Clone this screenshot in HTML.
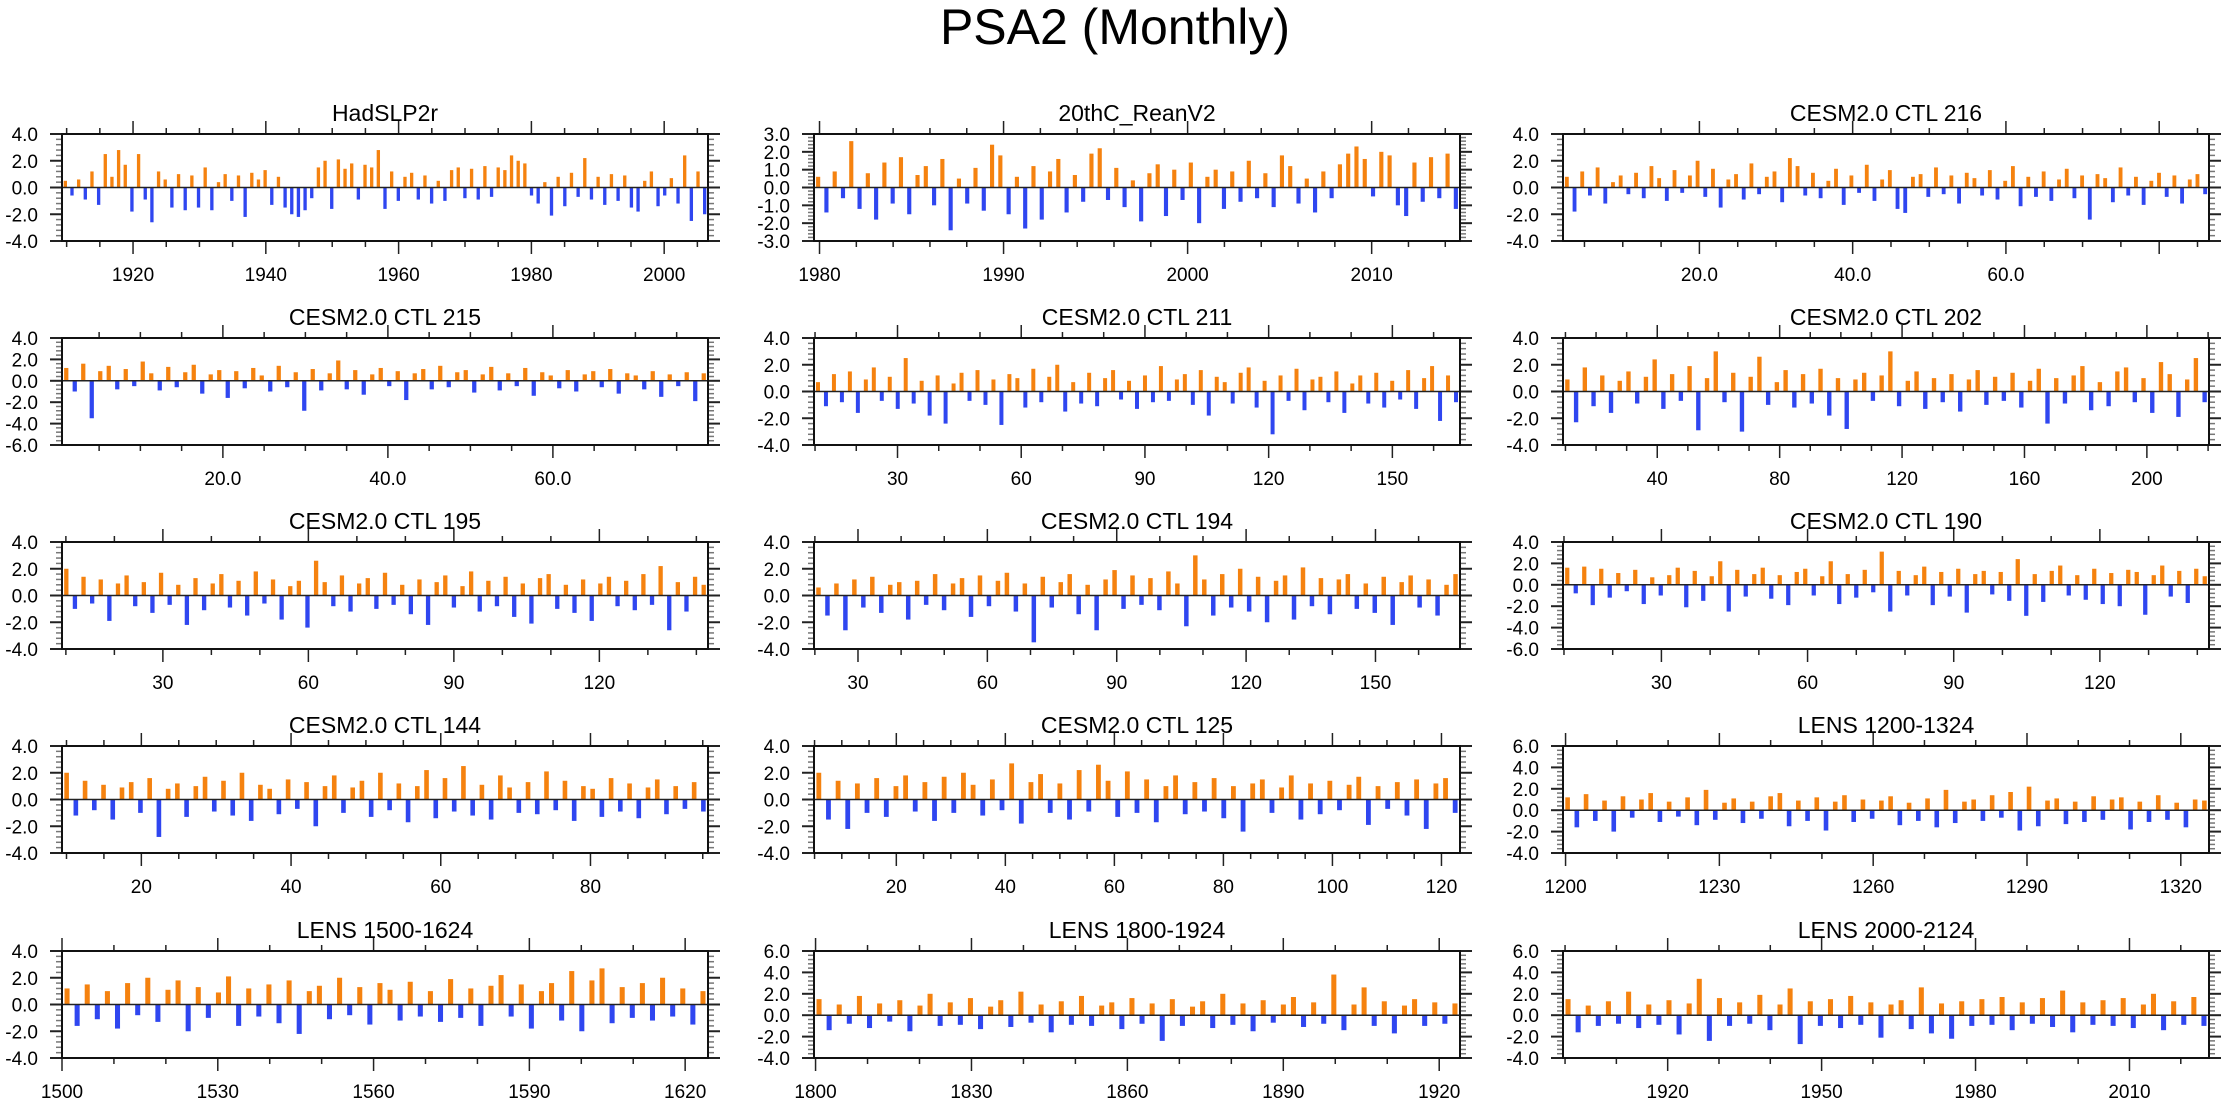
<!DOCTYPE html>
<html><head><meta charset="utf-8"><style>
html,body{margin:0;padding:0;background:#fff}
svg{display:block}
text{font-family:"Liberation Sans",sans-serif;fill:#000}
</style></head><body>
<svg id="chart" width="2230" height="1106" viewBox="0 0 2230 1106" xmlns="http://www.w3.org/2000/svg">
<text x="1115" y="44" font-size="50" text-anchor="middle">PSA2 (Monthly)</text>
</svg>
<script>
const hadslpValues=[0.5,-0.6,0.6,-0.9,1.2,-1.3,2.5,0.8,2.8,1.7,-1.8,2.5,-0.9,-2.6,1.2,0.6,-1.5,1.0,-1.7,0.9,-1.5,1.5,-1.7,0.4,1.0,-1.0,0.9,-2.2,1.1,0.6,1.3,-1.3,0.8,-1.5,-2.0,-2.2,-1.7,-0.8,1.5,2.0,-1.6,2.1,1.4,1.8,-0.9,1.7,1.5,2.8,-1.6,1.2,-1.0,0.8,1.1,-0.9,0.9,-1.2,0.5,-1.0,1.3,1.5,-0.8,1.4,-0.9,1.6,-0.7,1.5,1.3,2.4,2.0,1.8,-0.6,-1.2,0.4,-2.1,0.8,-1.4,1.1,-0.7,2.2,-0.9,0.8,-1.3,1.0,-1.0,0.9,-1.5,-1.8,0.5,1.2,-1.4,-0.6,0.7,-1.2,2.4,-2.5,1.2,-2.0];
const reanValues=[0.6,-1.4,0.9,-0.6,2.6,-1.2,0.8,-1.8,1.4,-0.9,1.7,-1.5,0.7,1.2,-1.0,1.6,-2.4,0.5,-0.9,1.1,-1.3,2.4,1.8,-1.5,0.6,-2.3,1.2,-1.8,0.9,1.6,-1.4,0.7,-0.8,1.9,2.2,-0.7,1.1,-1.1,0.4,-1.9,0.8,1.3,-1.6,1.0,-0.7,1.4,-2.0,0.6,1.0,-1.2,0.9,-0.8,1.5,-0.6,0.8,-1.1,1.8,1.2,-0.9,0.5,-1.4,0.9,-0.6,1.3,1.9,2.3,1.6,-0.5,2.0,1.8,-1.0,-1.6,1.4,-0.8,1.7,-0.6,1.9,-1.2];
const ctl216Values=[0.8,-1.8,1.2,-0.6,1.5,-1.2,0.4,0.9,-0.5,1.1,-0.8,1.6,0.7,-1.0,1.3,-0.4,0.9,2.0,-0.7,1.4,-1.5,0.6,1.0,-0.9,1.8,-0.5,0.8,1.2,-1.1,2.2,1.6,-0.6,1.1,-0.8,0.5,1.4,-1.3,0.9,-0.4,1.7,-1.0,0.6,1.3,-1.6,-1.9,0.8,1.0,-0.7,1.5,-0.5,0.9,-1.2,1.1,0.7,-0.6,1.3,-0.9,0.5,1.6,-1.4,0.8,-0.7,1.2,-1.0,0.6,1.4,-0.8,0.9,-2.4,1.0,0.7,-1.1,1.5,-0.6,0.8,-1.3,0.5,1.1,-0.7,0.9,-1.2,0.6,1.0,-0.5];
const ctl215Values=[1.2,-1.0,1.6,-3.5,0.9,1.4,-0.8,1.1,-0.5,1.8,0.7,-0.9,1.3,-0.6,0.8,1.5,-1.2,0.6,1.0,-1.6,0.9,-0.7,1.2,0.5,-1.0,1.4,-0.6,0.8,-2.8,1.1,-0.9,0.7,1.9,-0.8,1.0,-1.3,0.6,1.2,-0.5,0.9,-1.8,0.7,1.1,-0.8,1.4,-0.6,0.8,1.0,-1.1,0.6,1.3,-0.9,0.7,-0.5,1.2,-1.4,0.8,0.5,-0.7,1.0,-1.0,0.6,0.9,-0.6,1.1,-1.2,0.7,0.5,-0.8,0.9,-1.5,0.6,-0.5,0.8,-1.9,0.7];
const ctl211Values=[0.7,-1.1,1.3,-0.8,1.5,-1.6,0.9,1.8,-0.7,1.1,-1.3,2.5,-0.9,0.8,-1.8,1.2,-2.4,0.6,1.4,-0.7,1.6,-1.0,0.9,-2.5,1.3,1.0,-1.2,1.7,-0.8,1.1,2.0,-1.5,0.7,-0.9,1.4,-1.1,1.0,1.6,-0.6,0.8,-1.3,1.2,-0.8,1.9,-0.7,0.9,1.3,-1.0,1.6,-1.8,1.1,0.7,-0.9,1.4,1.8,-1.2,0.8,-3.2,1.2,-0.7,1.7,-1.4,0.9,1.1,-0.8,1.5,-1.6,0.6,1.2,-0.9,1.4,-1.2,0.8,-0.6,1.6,-1.3,1.0,1.9,-2.2,1.2,-0.8];
const ctl202Values=[0.9,-2.3,1.8,-1.1,1.2,-1.6,0.8,1.5,-0.9,1.1,2.4,-1.3,1.3,-0.7,1.9,-2.9,1.0,3.0,-0.8,1.4,-3.0,1.1,2.6,-1.0,0.7,1.6,-1.2,1.3,-0.9,1.7,-1.8,1.0,-2.8,0.9,1.4,-0.7,1.2,3.0,-1.1,0.8,1.5,-1.3,1.0,-0.8,1.3,-1.5,0.9,1.6,-1.0,1.1,-0.7,1.4,-1.2,0.8,1.7,-2.4,1.0,-0.9,1.2,1.9,-1.4,0.7,-1.1,1.5,1.8,-0.8,1.0,-1.6,2.2,1.3,-1.9,0.9,2.5,-0.8];
const ctl195Values=[2.0,-1.0,1.4,-0.6,1.2,-1.9,0.9,1.5,-0.8,1.0,-1.3,1.7,-0.7,0.8,-2.2,1.3,-1.1,0.9,1.6,-0.9,1.1,-1.5,1.8,-0.6,1.2,-1.8,0.7,1.1,-2.4,2.6,1.0,-0.8,1.5,-1.2,0.9,1.3,-1.0,1.7,-0.7,0.8,-1.4,1.2,-2.2,1.0,1.5,-0.9,0.7,1.8,-1.2,1.1,-0.8,1.4,-1.6,0.9,-2.1,1.3,1.6,-1.0,0.8,-1.3,1.2,-1.9,0.9,1.4,-0.8,1.1,-1.1,1.6,-0.7,2.2,-2.6,1.0,-1.2,1.4,0.8];
const ctl194Values=[0.6,-1.5,0.9,-2.6,1.2,-0.9,1.4,-1.3,0.8,1.0,-1.8,1.1,-0.7,1.6,-1.1,0.9,1.3,-1.6,1.5,-0.8,1.1,1.7,-1.2,0.9,-3.5,1.4,-0.9,1.0,1.6,-1.4,0.8,-2.6,1.2,1.9,-1.0,1.5,-0.7,1.3,-1.1,1.8,0.9,-2.3,3.0,1.2,-1.5,1.6,-0.9,2.0,-1.2,1.4,-2.0,1.1,1.5,-1.8,2.1,-0.8,1.3,-1.4,1.2,1.6,-1.0,0.9,-1.3,1.4,-2.2,1.0,1.5,-0.9,1.2,-1.5,0.8,1.6];
const ctl190Values=[1.6,-0.8,1.7,-1.9,1.5,-1.2,1.1,-0.6,1.4,-1.8,0.7,-1.0,0.9,1.6,-2.1,1.3,-1.5,0.8,2.2,-2.5,1.4,-1.1,1.0,1.6,-1.3,0.9,-1.9,1.2,1.5,-1.0,0.8,2.2,-1.8,1.0,-1.2,1.4,-0.7,3.1,-2.5,1.3,-1.0,0.9,1.7,-1.9,1.2,-1.1,1.5,-2.6,1.0,1.3,-0.9,1.2,-1.5,2.4,-2.9,1.0,-1.6,1.3,1.8,-1.0,0.9,-1.4,1.5,-1.8,1.1,-2.0,1.4,1.2,-2.8,0.9,1.8,-1.1,1.3,-1.7,1.5,0.8];
const ctl144Values=[2.0,-1.2,1.4,-0.8,1.1,-1.5,0.9,1.3,-1.0,1.6,-2.8,0.8,1.2,-1.3,1.0,1.7,-0.9,1.4,-1.2,2.0,-1.6,1.1,0.8,-1.1,1.5,-0.7,1.3,-2.0,1.0,1.8,-1.0,0.9,1.4,-1.3,2.0,-0.8,1.2,-1.7,1.0,2.2,-1.4,1.6,-0.9,2.5,-1.2,1.1,-1.5,1.8,0.9,-1.0,1.3,-1.1,2.1,-0.8,1.4,-1.6,1.0,0.8,-1.3,1.6,-0.9,1.2,-1.4,0.9,1.5,-1.1,1.0,-0.7,1.3,-0.9];
const ctl125Values=[2.0,-1.5,1.4,-2.2,1.2,-1.0,1.6,-1.3,1.0,1.8,-0.9,1.3,-1.6,1.7,-1.0,2.0,1.1,-1.2,1.5,-0.8,2.7,-1.8,1.3,1.9,-1.0,1.2,-1.5,2.2,-0.9,2.6,1.4,-1.3,2.1,-1.0,1.5,-1.7,1.0,1.8,-1.1,1.3,-0.9,1.6,-1.4,1.0,-2.4,1.2,1.5,-1.0,0.9,1.8,-1.5,1.2,-1.1,1.4,-0.8,1.1,1.7,-1.9,1.0,-0.7,1.3,-1.2,1.5,-2.2,1.2,1.6,-1.0];
const lens1200Values=[1.2,-1.6,1.5,-1.0,0.9,-2.0,1.3,-0.7,1.0,1.6,-1.1,0.8,-0.6,1.2,-1.4,1.9,-0.9,0.7,1.1,-1.2,0.8,-0.8,1.3,1.6,-1.5,0.9,-1.0,1.2,-1.9,0.8,1.4,-1.1,1.0,-0.8,0.9,1.3,-1.4,0.7,-1.0,1.1,-1.6,1.9,-1.2,0.8,1.0,-1.0,1.4,-0.7,1.7,-1.9,2.2,-1.5,0.9,1.1,-1.3,0.8,-1.1,1.3,-0.9,1.0,1.2,-1.8,0.8,-1.1,1.4,-0.9,0.7,-1.6,1.0,0.9];
const lens1500Values=[1.2,-1.6,1.5,-1.1,1.0,-1.8,1.6,-0.8,2.0,-1.3,1.1,1.8,-2.0,1.3,-1.0,0.9,2.1,-1.6,1.2,-0.9,1.5,-1.4,1.8,-2.2,1.0,1.4,-1.1,2.0,-0.8,1.3,-1.5,1.6,1.1,-1.2,1.7,-0.9,1.0,-1.3,1.9,-1.0,1.2,-1.6,1.4,2.2,-0.9,1.5,-1.8,1.0,1.6,-1.2,2.5,-2.0,1.8,2.7,-1.4,1.3,-1.0,1.6,-1.2,2.0,-0.9,1.2,-1.5,1.0];
const lens1800Values=[1.5,-1.4,1.0,-0.8,1.8,-1.2,1.1,-0.6,1.4,-1.5,0.9,2.0,-1.0,1.2,-0.9,1.6,-1.3,0.8,1.4,-1.1,2.2,-0.7,1.0,-1.6,1.3,-0.9,1.8,-1.0,0.9,1.2,-1.3,1.6,-0.8,1.1,-2.4,1.5,-1.0,0.8,1.3,-1.2,2.0,-0.9,1.1,-1.5,1.4,-0.7,1.0,1.7,-1.1,1.2,-0.8,3.8,-1.4,1.0,2.6,-1.0,1.3,-1.7,0.9,1.5,-1.0,1.2,-0.8,1.1];
const lens2000Values=[1.5,-1.6,0.9,-1.0,1.3,-0.8,2.2,-1.2,1.0,-0.9,1.4,-1.8,1.1,3.4,-2.4,1.6,-1.0,1.2,-0.8,1.9,-1.4,1.0,2.5,-2.7,1.3,-1.0,1.5,-1.2,1.8,-0.9,1.2,-2.1,1.0,1.4,-1.3,2.6,-1.7,1.1,-2.2,1.3,-1.0,1.5,-0.9,1.7,-1.4,1.2,-0.8,1.6,-1.1,2.3,-1.6,1.2,-0.9,1.4,-1.0,1.6,-1.2,1.0,2.0,-1.4,1.3,-0.9,1.7,-1.0];

const hadXLabels=['1920','1940','1960','1980','2000'];
const reanXLabels=['1980','1990','2000','2010'];
const ctl216XLabels=['20.0','40.0','60.0'];
const ctl215XLabels=['20.0','40.0','60.0'];
const ctl211XLabels=['30','60','90','120','150'];
const ctl202XLabels=['40','80','120','160','200'];
const ctl195XLabels=['30','60','90','120'];
const ctl194XLabels=['30','60','90','120','150'];
const ctl190XLabels=['30','60','90','120'];
const ctl144XLabels=['20','40','60','80'];
const ctl125XLabels=['20','40','60','80','100','120'];
const lens1200XLabels=['1200','1230','1260','1290','1320'];
const lens1500XLabels=['1500','1530','1560','1590','1620'];
const lens1800XLabels=['1800','1830','1860','1890','1920'];
const lens2000XLabels=['1920','1950','1980','2010'];

const colLeft=[62,814,1563], rowTop=[134,338,542,746,951], PW=646, PH=107;
const panels=[
 {t:'HadSLP2r',v:hadslpValues,d:[1909.3,2006.6],mj:20,mn:5,xl:hadXLabels,y:[-4,4,2]},
 {t:'20thC_ReanV2',v:reanValues,d:[1979.7,2014.8],mj:10,mn:2,xl:reanXLabels,y:[-3,3,1]},
 {t:'CESM2.0 CTL 216',v:ctl216Values,d:[2.2,86.5],mj:20,mn:5,xl:ctl216XLabels,y:[-4,4,2]},
 {t:'CESM2.0 CTL 215',v:ctl215Values,d:[0.5,78.8],mj:20,mn:5,xl:ctl215XLabels,y:[-6,4,2]},
 {t:'CESM2.0 CTL 211',v:ctl211Values,d:[9.75,166.4],mj:30,mn:10,xl:ctl211XLabels,y:[-4,4,2]},
 {t:'CESM2.0 CTL 202',v:ctl202Values,d:[9.2,220.3],mj:40,mn:10,xl:ctl202XLabels,y:[-4,4,2]},
 {t:'CESM2.0 CTL 195',v:ctl195Values,d:[9.2,142.4],mj:30,mn:10,xl:ctl195XLabels,y:[-4,4,2]},
 {t:'CESM2.0 CTL 194',v:ctl194Values,d:[19.8,169.6],mj:30,mn:10,xl:ctl194XLabels,y:[-4,4,2]},
 {t:'CESM2.0 CTL 190',v:ctl190Values,d:[9.8,142.4],mj:30,mn:10,xl:ctl190XLabels,y:[-6,4,2]},
 {t:'CESM2.0 CTL 144',v:ctl144Values,d:[9.4,95.7],mj:20,mn:5,xl:ctl144XLabels,y:[-4,4,2]},
 {t:'CESM2.0 CTL 125',v:ctl125Values,d:[4.9,123.4],mj:20,mn:5,xl:ctl125XLabels,y:[-4,4,2]},
 {t:'LENS 1200-1324',v:lens1200Values,d:[1199.5,1325.5],mj:30,mn:10,xl:lens1200XLabels,y:[-4,6,2]},
 {t:'LENS 1500-1624',v:lens1500Values,d:[1500,1624.4],mj:30,mn:10,xl:lens1500XLabels,y:[-4,4,2]},
 {t:'LENS 1800-1924',v:lens1800Values,d:[1799.7,1924],mj:30,mn:10,xl:lens1800XLabels,y:[-4,6,2]},
 {t:'LENS 2000-2124',v:lens2000Values,d:[1899.6,2025.5],mj:30,mn:10,xl:lens2000XLabels,y:[-4,6,2]}
];
const NS='http://www.w3.org/2000/svg', svg=document.getElementById('chart');
function mk(tag,at,parent){const e=document.createElementNS(NS,tag);for(const k in at)e.setAttribute(k,at[k]);(parent||svg).appendChild(e);return e;}
panels.forEach((p,i)=>{
 const L=colLeft[i%3],T=rowTop[Math.floor(i/3)],R=L+PW,B=T+PH;
 const g=mk('g',{});
 
 
 const xs=x=>L+(x-p.d[0])/(p.d[1]-p.d[0])*PW;
 const ys=y=>B-(y-p.y[0])/(p.y[1]-p.y[0])*PH;
 const tt=mk('text',{x:(L+R)/2,y:T-13,'font-size':23,'text-anchor':'middle'},g);tt.textContent=p.t;
 
 
 const n=p.v.length,step=(p.d[1]-p.d[0])/n,bw=PW/n*0.5;
 p.v.forEach((v,k)=>{
  const x=xs(p.d[0]+(k+0.5)*step),y0=ys(0),y1=ys(v);
  const r=mk('rect',{x:x-bw/2,y:Math.min(y0,y1),width:bw,height:Math.abs(y1-y0),fill:v>=0?'#f5820f':'#2f46f0'},g);
  
  
 });
 const z=mk('line',{x1:L,x2:R,y1:ys(0),y2:ys(0),stroke:'#222','stroke-width':1.5},g);
 
 
 for(let v=p.y[0];v<=p.y[1]+1e-9;v+=p.y[2]/5){
  const major=Math.abs(Math.round(v/p.y[2])*p.y[2]-v)<1e-6, len=major?12:6, y=ys(v);
  mk('line',{x1:L-len,x2:L,y1:y,y2:y,stroke:major?'#222':'#777','stroke-width':major?2:1.5},g);
  mk('line',{x1:R,x2:R+len,y1:y,y2:y,stroke:major?'#222':'#777','stroke-width':major?2:1.5},g);
  if(major){const t=mk('text',{x:L-24,y:y+7,'font-size':19,'text-anchor':'end'},g);t.textContent=(Math.abs(v)<1e-9?0:v).toFixed(1);
   
   }
 }
 const st=Math.ceil(p.d[0]/p.mn)*p.mn;
 for(let x=st;x<=p.d[1]+1e-9;x+=p.mn){
  const major=Math.abs(Math.round(x/p.mj)*p.mj-x)<1e-6,len=major?13:6,px=xs(x);
  mk('line',{x1:px,x2:px,y1:T-len,y2:T,stroke:'#222','stroke-width':1.5},g);
  mk('line',{x1:px,x2:px,y1:B,y2:B+len,stroke:'#222','stroke-width':1.5},g);
 }
 p.xl.forEach(s=>{
  const t=mk('text',{x:xs(parseFloat(s)),y:B+40,'font-size':19,'text-anchor':'middle'},g);t.textContent=s;
  
  
 });
 const box=mk('rect',{x:L,y:T,width:PW,height:PH,fill:'none',stroke:'#111','stroke-width':2},g);
 
 
});
</script>
</body></html>
